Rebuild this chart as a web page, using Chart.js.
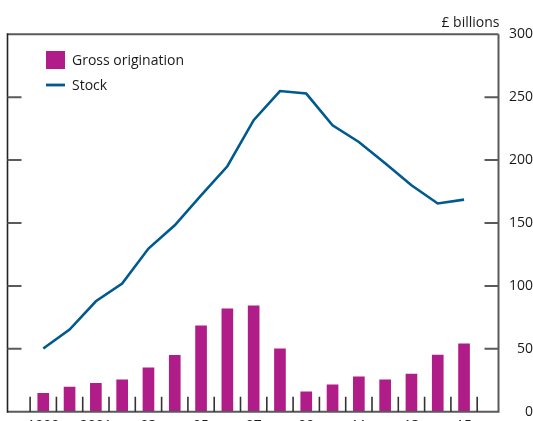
<!DOCTYPE html>
<html>
<head>
<meta charset="utf-8">
<script src="https://cdn.jsdelivr.net/npm/chart.js@4.4.1/dist/chart.umd.min.js"></script>
<style>
  html, body { margin: 0; padding: 0; background: #fff; overflow: hidden; }
  #wrap { position: relative; width: 533px; height: 440px; }
</style>
</head>
<body>
<div id="wrap"><canvas id="chart"></canvas></div>
<script>
const years = [1999, 2000, 2001, 2002, 2003, 2004, 2005, 2006, 2007, 2008, 2009, 2010, 2011, 2012, 2013, 2014, 2015];
const grossOrigination = [14.7, 19.5, 22.6, 25.3, 34.8, 44.9, 68.2, 81.7, 84.1, 49.9, 15.7, 21.3, 27.7, 25.3, 30.0, 45.1, 53.9];
const stock = [50.2, 65.3, 87.8, 101.9, 129.7, 148.2, 172, 195.1, 231.7, 254.9, 252.9, 227.7, 214.4, 197.5, 180, 165.5, 168.6];
const labelYears = [1999, 2001, 2003, 2005, 2007, 2009, 2011, 2013, 2015];
const yearLabels = ['1999', '2001', '03', '05', '07', '09', '11', '13', '15'];
const yTicks = [0, 50, 100, 150, 200, 250, 300];

const FONT = '"Open Sans", sans-serif';
const PINK = '#b01c88';
const BLUE = '#005a8f';
const AXIS = '#5a5a5a';

// frame, inward tick marks, legend and unit label
const decor = {
  id: 'decor',
  afterDatasetsDraw(chart) {
    const ctx = chart.ctx;
    const a = chart.chartArea;
    const x = chart.scales.x;
    const y = chart.scales.y;
    ctx.save();

    ctx.strokeStyle = AXIS;
    ctx.lineWidth = 2;
    ctx.beginPath();
    ctx.moveTo(a.left, a.top);
    ctx.lineTo(a.right, a.top);
    ctx.moveTo(a.left, a.bottom);
    ctx.lineTo(a.right, a.bottom);
    ctx.moveTo(a.right, a.top);
    ctx.lineTo(a.right, a.bottom + 1);
    ctx.stroke();

    ctx.strokeStyle = '#222';
    ctx.lineWidth = 1.6;
    ctx.beginPath();
    ctx.moveTo(a.left, a.top - 1);
    ctx.lineTo(a.left, a.bottom + 1);
    ctx.stroke();

    ctx.strokeStyle = AXIS;
    ctx.lineWidth = 2;
    ctx.beginPath();
    yTicks.slice(1, -1).forEach(v => {
      const py = y.getPixelForValue(v);
      ctx.moveTo(a.left, py);
      ctx.lineTo(a.left + 14, py);
      ctx.moveTo(a.right - 14, py);
      ctx.lineTo(a.right, py);
    });
    ctx.stroke();

    ctx.strokeStyle = '#333';
    ctx.lineWidth = 1.6;
    ctx.beginPath();
    years.concat([years[years.length - 1] + 1]).forEach(yr => {
      const px = x.getPixelForValue(yr - 0.5);
      ctx.moveTo(px, a.bottom);
      ctx.lineTo(px, a.bottom - 15);
    });
    ctx.stroke();

    // legend
    const ds = chart.data.datasets;
    ctx.font = '14px ' + FONT;
    ctx.textBaseline = 'alphabetic';
    ctx.textAlign = 'left';
    ctx.fillStyle = ds[0].backgroundColor;
    ctx.fillRect(46, 51, 19, 18);
    ctx.fillStyle = '#1a1a1a';
    ctx.fillText(ds[0].label, 72, 65);
    ctx.strokeStyle = ds[1].borderColor;
    ctx.lineWidth = 2.8;
    ctx.beginPath();
    ctx.moveTo(46, 85);
    ctx.lineTo(65, 85);
    ctx.stroke();
    ctx.fillText(ds[1].label, 72, 89.5);

    ctx.textAlign = 'right';
    ctx.fillText('£ billions', a.right + 1, 26.7);
    ctx.restore();
  }
};

new Chart(document.getElementById('chart'), {
  data: {
    datasets: [
      {
        type: 'bar',
        label: 'Gross origination',
        data: years.map((yr, i) => ({ x: yr, y: grossOrigination[i] })),
        backgroundColor: PINK,
        barThickness: 11,
        order: 1
      },
      {
        type: 'line',
        label: 'Stock',
        data: years.map((yr, i) => ({ x: yr, y: stock[i] })),
        borderColor: BLUE,
        borderWidth: 2.6,
        pointRadius: 0,
        tension: 0,
        order: 0
      }
    ]
  },
  plugins: [decor],
  options: {
    responsive: true,
    maintainAspectRatio: false,
    animation: false,
    layout: { padding: { left: 7.5, top: 34.3, right: 0, bottom: 0 } },
    plugins: {
      legend: { display: false },
      tooltip: { enabled: false }
    },
    scales: {
      x: {
        type: 'linear',
        offset: false,
        min: 1997.64,
        max: 2016.31,
        grid: { display: false, drawTicks: false, offset: false },
        border: { display: false },
        afterBuildTicks: s => { s.ticks = labelYears.map(v => ({ value: v })); },
        afterFit: s => { s.height = 440 - 411.7; },
        ticks: {
          autoSkip: false,
          maxRotation: 0,
          padding: 6,
          color: '#1a1a1a',
          font: { family: FONT, size: 14 },
          callback: v => yearLabels[labelYears.indexOf(v)]
        }
      },
      y: {
        position: 'right',
        min: 0,
        max: 300,
        grid: { display: false, drawTicks: false },
        border: { display: false },
        afterBuildTicks: s => { s.ticks = yTicks.map(v => ({ value: v })); },
        afterFit: s => { s.width = 533 - 498.5; },
        ticks: {
          crossAlign: 'far',
          padding: 7.5,
          color: '#1a1a1a',
          font: { family: FONT, size: 14 }
        }
      }
    }
  }
});
</script>
</body>
</html>
